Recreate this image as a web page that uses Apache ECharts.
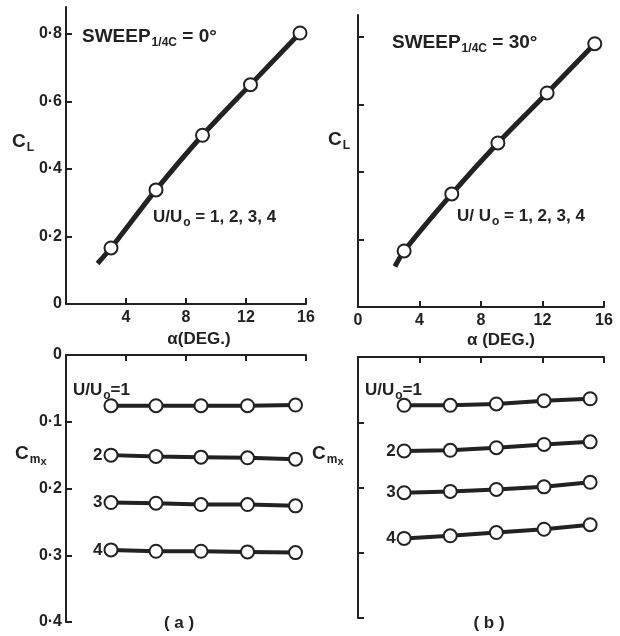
<!DOCTYPE html>
<html><head><meta charset="utf-8">
<script src="https://cdn.jsdelivr.net/npm/echarts@6/dist/echarts.min.js"></script>
<style>html,body{margin:0;padding:0;background:#fff}#c{width:620px;height:636px}</style>
</head><body><div id="c"></div>
<script>
// ---- data ----
const alphaTL = [3.0, 6.0, 9.1, 12.3, 15.6];
const clTL = [0.166, 0.338, 0.500, 0.650, 0.803];
const fitStartTL = [2.1, 0.12];
const alphaTR = [3.0, 6.1, 9.1, 12.3, 15.4];
const clTR = [0.166, 0.335, 0.486, 0.634, 0.780];
const fitStartTR = [2.4, 0.12];
const alphaBL = [3.0, 6.0, 9.0, 12.1, 15.3];
const cmA1 = [0.076, 0.076, 0.076, 0.076, 0.075];
const cmA2 = [0.150, 0.152, 0.153, 0.154, 0.156];
const cmA3 = [0.221, 0.222, 0.224, 0.224, 0.226];
const cmA4 = [0.292, 0.294, 0.294, 0.295, 0.296];
const alphaBR = [3.0, 6.0, 9.0, 12.1, 15.1];
const cmB1 = [0.074, 0.074, 0.072, 0.067, 0.064];
const cmB2 = [0.144, 0.143, 0.139, 0.134, 0.130];
const cmB3 = [0.208, 0.206, 0.203, 0.199, 0.192];
const cmB4 = [0.278, 0.274, 0.269, 0.264, 0.257];
const xTicksLeft = ['', '4', '8', '12', '16'];
const xTicksRight = ['0', '4', '8', '12', '16'];
const clTickValues = [0, 0.2, 0.4, 0.6, 0.8];
const clTicks = ['0', '0·2', '0·4', '0·6', '0·8'];
const cmTickValues = [0, 0.1, 0.2, 0.3, 0.4];
const cmTicks = ['0', '0·1', '0·2', '0·3', '0·4'];

const INK = '#222';
const FONT = 'Liberation Sans';
const pairs = (xs, ys) => xs.map((x, i) => [x, ys[i]]);

function xAxis(grid, labels, pos, showLabels) {
  return {
    type: 'value', gridIndex: grid, min: 0, max: 16, interval: 4, position: pos,
    axisLine: {show: true, onZero: false, lineStyle: {color: INK, width: 2}},
    axisTick: {show: true, inside: true, length: 6, lineStyle: {color: INK, width: 2}},
    axisLabel: {show: showLabels, margin: 6, color: INK, fontSize: 16, fontWeight: 'bold', fontFamily: FONT,
      formatter: (v) => labels[Math.round(v / 4)] || ''},
    splitLine: {show: false}
  };
}
function yAxis(grid, max, values, labels, showLabels, inverse) {
  return {
    type: 'value', gridIndex: grid, min: 0, max: max, inverse: inverse,
    axisLine: {show: true, onZero: false, lineStyle: {color: INK, width: 2}},
    axisTick: {show: true, inside: true, length: 6, customValues: values, lineStyle: {color: INK, width: 2}},
    axisLabel: {show: showLabels, margin: 4, color: INK, fontSize: 16, fontWeight: 'bold', fontFamily: FONT,
      customValues: values,
      formatter: (v) => { const i = values.findIndex(t => Math.abs(t - v) < 1e-6); return i >= 0 ? labels[i] : ''; }},
    splitLine: {show: false}
  };
}
const marker = {color: '#fff', borderColor: INK, borderWidth: 2, opacity: 1};
function fitLine(ax, start, xs, ys) {
  return {type: 'line', xAxisIndex: ax, yAxisIndex: ax, data: [start].concat(pairs(xs, ys)),
    showSymbol: false, smooth: 0.25, lineStyle: {color: INK, width: 5}, z: 2, silent: true};
}
function pts(ax, xs, ys) {
  return {type: 'scatter', xAxisIndex: ax, yAxisIndex: ax, data: pairs(xs, ys),
    symbol: 'circle', symbolSize: 13, itemStyle: marker, z: 3, silent: true};
}
function cmLine(ax, name, xs, ys, lab) {
  return {type: 'line', name: name, xAxisIndex: ax, yAxisIndex: ax, data: pairs(xs, ys),
    symbol: 'circle', symbolSize: 13, showAllSymbol: true, itemStyle: marker,
    lineStyle: {color: INK, width: 4}, z: 3, silent: true,
    label: {show: lab, position: 'left', distance: 1, color: INK, fontSize: 17, fontWeight: 'bold', fontFamily: FONT,
      formatter: (p) => p.dataIndex === 0 ? name : ''}};
}
const base = {fontSize: 17, fontWeight: 'bold', fontFamily: FONT, fill: INK};
const rich = {
  a: {fontSize: 17, fontWeight: 'bold', fontFamily: FONT, color: INK},
  b: {fontSize: 19, fontWeight: 'bold', fontFamily: FONT, color: INK},
  s: {fontSize: 12, fontWeight: 'bold', fontFamily: FONT, color: INK, padding: [12, 0, 0, 1]},
  ss: {fontSize: 11, fontWeight: 'bold', fontFamily: FONT, color: INK, padding: [15, 0, 0, 0]}
};
function txt(x, y, text, align) {
  return {type: 'text', x: x, y: y, silent: true,
    style: Object.assign({}, base, {text: text, rich: rich, align: align || 'left', verticalAlign: 'middle'})};
}

const option = {
  backgroundColor: '#fff',
  animation: false,
  grid: [
    {left: 66, top: 7, width: 240, height: 297},
    {left: 358, top: 15, width: 246, height: 292},
    {left: 66, top: 355, width: 240, height: 267},
    {left: 358, top: 357, width: 246, height: 261}
  ],
  xAxis: [
    xAxis(0, xTicksLeft, 'bottom', true),
    xAxis(1, xTicksRight, 'bottom', true),
    xAxis(2, xTicksLeft, 'top', false),
    xAxis(3, xTicksLeft, 'top', false)
  ],
  yAxis: [
    yAxis(0, 0.88, clTickValues, clTicks, true, false),
    yAxis(1, 0.865, clTickValues, clTicks, false, false),
    yAxis(2, 0.4, cmTickValues, cmTicks, true, true),
    yAxis(3, 0.4, cmTickValues, cmTicks, false, true)
  ],
  series: [
    fitLine(0, fitStartTL, alphaTL, clTL), pts(0, alphaTL, clTL),
    fitLine(1, fitStartTR, alphaTR, clTR), pts(1, alphaTR, clTR),
    cmLine(2, '1', alphaBL, cmA1, false), cmLine(2, '2', alphaBL, cmA2, true),
    cmLine(2, '3', alphaBL, cmA3, true), cmLine(2, '4', alphaBL, cmA4, true),
    cmLine(3, '1', alphaBR, cmB1, false), cmLine(3, '2', alphaBR, cmB2, true),
    cmLine(3, '3', alphaBR, cmB3, true), cmLine(3, '4', alphaBR, cmB4, true)
  ],
  graphic: [
    txt(82, 37, '{b|SWEEP}{s|1/4C}{b| = 0°}'),
    txt(392, 43, '{b|SWEEP}{s|1/4C}{b| = 30°}'),
    txt(153, 217, '{a|U/U}{s|o}{a| = 1, 2, 3, 4}'),
    txt(457, 216, '{a|U/ U}{s|o}{a| = 1, 2, 3, 4}'),
    txt(12, 142, '{b|C}{s|L}'),
    txt(328, 140, '{b|C}{s|L}'),
    txt(199, 339, 'α(DEG.)', 'center'),
    txt(501, 340, 'α (DEG.)', 'center'),
    txt(15, 454, '{b|C}{s|m}{ss|x}'),
    txt(312, 454, '{b|C}{s|m}{ss|x}'),
    txt(73, 390, '{a|U/U}{s|o}{a|=1}'),
    txt(365, 390, '{a|U/U}{s|o}{a|=1}'),
    txt(179, 623, '( a )', 'center'),
    txt(489, 623, '( b )', 'center')
  ]
};
echarts.init(document.getElementById('c')).setOption(option);
</script></body></html>
